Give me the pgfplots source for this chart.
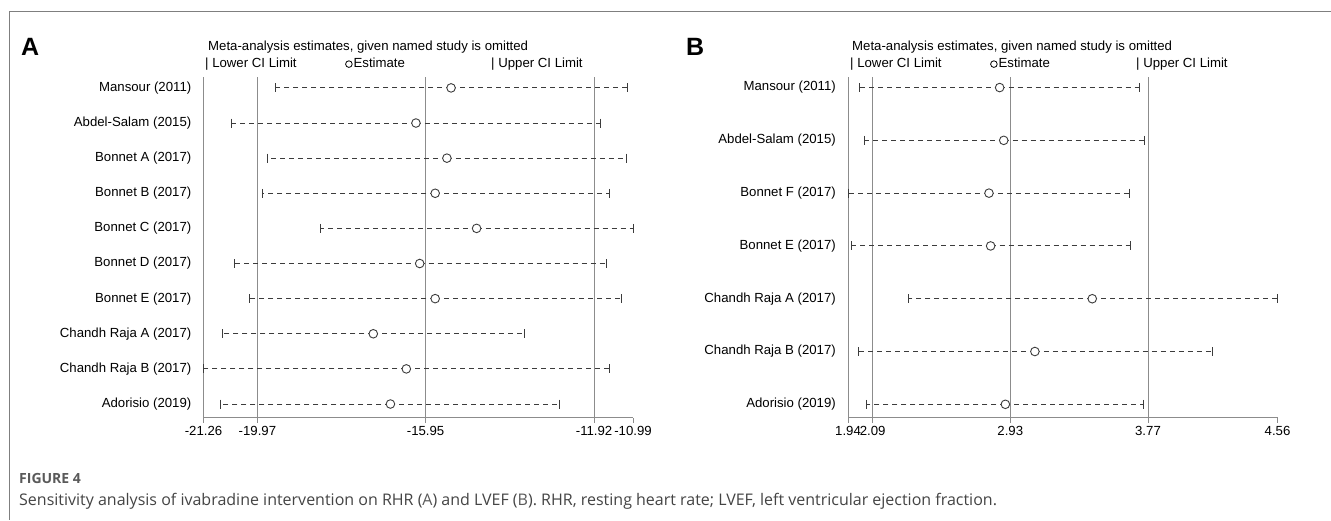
\documentclass[border=0pt]{standalone}
\usepackage{pgfplots}
\pgfplotsset{compat=1.18}
\usepackage{pgfplotstable}
\usepackage{fontspec}
\setmainfont{Liberation Sans}
\newfontfamily\capfont{Open Sans}
\definecolor{refline}{HTML}{8C8C8C}
\definecolor{dashc}{HTML}{3C3C3C}
\definecolor{framec}{HTML}{7F7F7F}
\definecolor{capgray}{HTML}{5A5A5A}
\definecolor{captext}{HTML}{444444}

\pgfplotstableread{
y lo est hi
10 -19.55 -15.34 -11.12
9 -20.58 -16.18 -11.76
8 -19.73 -15.44 -11.15
7 -19.86 -15.72 -11.55
6 -18.46 -14.73 -10.99
5 -20.51 -16.09 -11.62
4 -20.17 -15.72 -11.26
3 -20.80 -17.20 -13.58
2 -21.26 -16.41 -11.55
1 -20.85 -16.79 -12.75
}\tabA

\pgfplotstableread{
y lo est hi
7 2.01 2.865 3.72
6 2.04 2.89 3.75
5 1.94 2.80 3.655
4 1.96 2.81 3.66
3 2.31 3.43 4.56
2 2.005 3.08 4.165
1 2.05 2.90 3.74
}\tabB

\pgfplotsset{
  forest/.style={
    scale only axis, width=429.5pt, height=340.5pt,
    axis x line*=bottom, axis y line*=left,
    axis line style={refline, line width=1pt},
    tick style={refline, line width=1pt},
    major tick length=5pt, tick align=outside,
    ytick style={draw=none},
    ticklabel style={font=\fontsize{13.2}{15}\selectfont, text=black},
    yticklabel style={anchor=east, inner sep=0pt, xshift=-7pt},
    clip=false,
    anchor=south west,
  },
  ebar/.style={only marks, mark=none, forget plot,
    error bars/.cd, x dir=both, x explicit, error mark=none,
    error bar style={draw=dashc, line width=0.9pt, dash pattern=on 5pt off 4pt}},
  cap/.style={only marks, mark=|, mark size=4.5pt, mark options={draw=dashc, line width=0.9pt, solid}},
  est/.style={only marks, mark=*, mark size=4.3pt, mark options={fill=white, draw=dashc, line width=0.9pt, solid}},
}

\begin{document}
\begin{tikzpicture}
\useasboundingbox (0,0) rectangle (1331pt,-520pt);
\fill[white] (0,0) rectangle (1331pt,-520pt);
\draw[framec, line width=1pt] (1331pt,-11pt) -- (9pt,-11pt) -- (9pt,-520pt);

% Panel A
\begin{axis}[forest, at={(203.5pt,-417.5pt)},
  xmin=-21.26, xmax=-10.99, ymin=0.616, ymax=10.31,
  xtick={-21.26,-19.97,-15.95,-11.92,-10.99},
  xticklabels={-21.26,-19.97,-15.95,-11.92,-10.99},
  ytick={1,...,10},
  yticklabels={Adorisio (2019),Chandh Raja B (2017),Chandh Raja A (2017),Bonnet E (2017),Bonnet D (2017),Bonnet C (2017),Bonnet B (2017),Bonnet A (2017),Abdel-Salam (2015),Mansour (2011)},
]
\addplot[refline, line width=1pt, forget plot] coordinates {(-19.97,0.616) (-19.97,10.31)};
\addplot[refline, line width=1pt, forget plot] coordinates {(-15.95,0.616) (-15.95,10.31)};
\addplot[refline, line width=1pt, forget plot] coordinates {(-11.92,0.616) (-11.92,10.31)};
\addplot[ebar] table[x=est, y=y, x error plus expr=\thisrow{hi}-\thisrow{est}, x error minus expr=\thisrow{est}-\thisrow{lo}] {\tabA};
\addplot[cap] table[x=lo, y=y] {\tabA};
\addplot[cap] table[x=hi, y=y] {\tabA};
\addplot[est] table[x=est, y=y] {\tabA};
\end{axis}

% Panel B
\begin{axis}[forest, at={(848pt,-417.5pt)},
  xmin=1.94, xmax=4.56, ymin=0.75, ymax=7.20,
  xtick={1.94,2.09,2.93,3.77,4.56},
  xticklabels={1.94,2.09,2.93,3.77,4.56},
  ytick={1,...,7},
  yticklabels={Adorisio (2019),Chandh Raja B (2017),Chandh Raja A (2017),Bonnet E (2017),Bonnet F (2017),Abdel-Salam (2015),Mansour (2011)},
]
\addplot[refline, line width=1pt, forget plot] coordinates {(2.09,0.75) (2.09,7.20)};
\addplot[refline, line width=1pt, forget plot] coordinates {(2.93,0.75) (2.93,7.20)};
\addplot[refline, line width=1pt, forget plot] coordinates {(3.77,0.75) (3.77,7.20)};
\addplot[ebar] table[x=est, y=y, x error plus expr=\thisrow{hi}-\thisrow{est}, x error minus expr=\thisrow{est}-\thisrow{lo}] {\tabB};
\addplot[cap] table[x=lo, y=y] {\tabB};
\addplot[cap] table[x=hi, y=y] {\tabB};
\addplot[est] table[x=est, y=y] {\tabB};
\end{axis}

% Titles and legends
\begin{scope}[every node/.style={anchor=base west, inner sep=0pt, font=\fontsize{13.2}{15}\selectfont}]
\node at (208pt,-50.5pt) {Meta-analysis estimates, given named study is omitted};
\node at (205pt,-67.5pt) {| Lower CI Limit};
\node at (345pt,-67.5pt) {\tikz[baseline=-3.4pt]\draw[line width=0.8pt] (0,0) circle (3.3pt);\hspace{1pt}Estimate};
\node at (491pt,-67.5pt) {| Upper CI Limit};
\node at (852pt,-50.5pt) {Meta-analysis estimates, given named study is omitted};
\node at (850pt,-67.5pt) {| Lower CI Limit};
\node at (990pt,-67.5pt) {\tikz[baseline=-3.4pt]\draw[line width=0.8pt] (0,0) circle (3.3pt);\hspace{1pt}Estimate};
\node at (1136pt,-67.5pt) {| Upper CI Limit};
\node[font=\fontsize{25}{30}\selectfont\bfseries] at (21pt,-55pt) {A};
\node[font=\fontsize{25}{30}\selectfont\bfseries] at (686pt,-55pt) {B};
\node[font=\capfont\bfseries\fontsize{14}{16}\selectfont, text=capgray] at (19pt,-483pt) {FIGURE 4};
\node[font=\capfont\fontsize{16}{19}\selectfont, text=captext] at (19pt,-505pt) {Sensitivity analysis of ivabradine intervention on RHR (\textcolor{capgray}{A}) and LVEF (\textcolor{capgray}{B}). RHR, resting heart rate; LVEF, left ventricular ejection fraction.};
\end{scope}
\end{tikzpicture}
\end{document}
